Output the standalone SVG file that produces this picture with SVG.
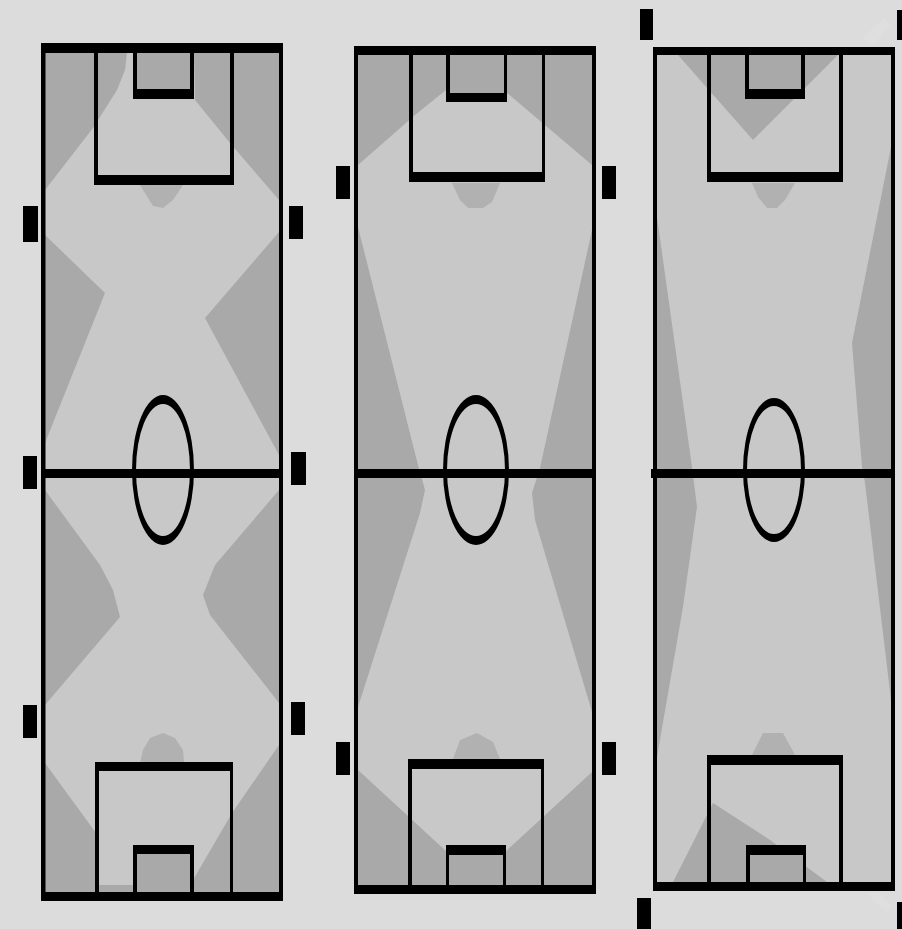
<svg xmlns="http://www.w3.org/2000/svg" width="902" height="929" viewBox="0 0 902 929">
<style>
.bg{fill:#dcdcdc}
.f{fill:#c8c8c8}
.d{fill:#a9a9a9}
.a{fill:#b1b1b1}
.k{fill:#000}
.c{fill:#000;fill-rule:evenodd}
.s{fill:#dfdfdf}
</style>
<rect class="bg" width="902" height="929"/>
<path class="s" d="M862 38L885 18L890 26L874 44ZM866 893L878 893L892 906L886 912Z"/>
<g id="pitch-1">
<rect class="f" x="41" y="43" width="242" height="858"/>
<path class="d" d="M45 53H127L125 70L117 90L93 128L45 190Z"/>
<path class="d" d="M137 53H191V90H137Z"/>
<path class="d" d="M194 53H279V200L230 143L195 100Z"/>
<path class="a" d="M140 185H183L173 200L163 208L153 206Z"/>
<path class="d" d="M45 235L105 293L45 443Z"/>
<path class="d" d="M279 232L205 318L279 455Z"/>
<path class="d" d="M45 490L100 565L113 590L120 617L45 705Z"/>
<path class="d" d="M279 490L215 565L203 595L210 615L279 703Z"/>
<path class="d" d="M45 763L96 833L99 885H133V892H45Z"/>
<path class="d" d="M137 854H190V892H137Z"/>
<path class="d" d="M279 745L232 813L193 880V892H279Z"/>
<path class="a" d="M140 763L143 750L150 738L163 733L175 738L183 750L184 763Z"/>
<rect class="k" x="41" y="43" width="242" height="10"/>
<rect class="k" x="41" y="892" width="242" height="9"/>
<rect class="k" x="41" y="43" width="4.500" height="858"/>
<rect class="k" x="279" y="43" width="4" height="858"/>
<rect class="k" x="41" y="469" width="242" height="9"/>
<path class="k" d="M94 43H98V175H230V43H234V185H94Z"/>
<path class="k" d="M133 43H137V89H190V43H194V99H133Z"/>
<path class="k" d="M95 901V762H233V901H230V771H99V901Z"/>
<path class="k" d="M133 901V845H194V901H190V854H137V901Z"/>
<path class="c" d="M132 470a31 75 0 1 0 62 0a31 75 0 1 0 -62 0ZM136 470a27 66 0 1 1 54 0a27 66 0 1 1 -54 0Z"/>
<rect class="k" x="23" y="206" width="15" height="36"/>
<rect class="k" x="289" y="206" width="14" height="33"/>
<rect class="k" x="23" y="456" width="14" height="33"/>
<rect class="k" x="291" y="452" width="15" height="33"/>
<rect class="k" x="23" y="705" width="14" height="33"/>
<rect class="k" x="291" y="702" width="14" height="33"/>
</g>
<g id="pitch-2">
<rect class="f" x="354" y="46" width="242" height="848"/>
<path class="d" d="M358 55H446V90L415 115L358 165Z"/>
<path class="d" d="M450 55H504V93H450Z"/>
<path class="d" d="M507 55H592V165L507 93Z"/>
<path class="a" d="M452 183H500L492 202L483 208H468L460 200Z"/>
<path class="d" d="M358 227L418 465L425 490L420 513L358 707Z"/>
<path class="d" d="M592 230L540 468L532 493L535 520L592 712Z"/>
<path class="d" d="M358 770L447 852V885H358Z"/>
<path class="d" d="M592 772L505 852V885H592Z"/>
<path class="d" d="M449 855H503V885H449Z"/>
<path class="a" d="M453 759L460 740L477 733L493 742L500 759Z"/>
<rect class="k" x="354" y="46" width="242" height="9"/>
<rect class="k" x="354" y="885" width="242" height="9"/>
<rect class="k" x="354" y="46" width="4" height="848"/>
<rect class="k" x="592" y="46" width="4" height="848"/>
<rect class="k" x="354" y="469" width="242" height="9"/>
<path class="k" d="M409 46H413V172H542V46H545V182H409Z"/>
<path class="k" d="M446 46H450V93H504V46H507V102H446Z"/>
<path class="k" d="M408 894V759H544V894H541V769H412V894Z"/>
<path class="k" d="M446 894V845H506V894H503V855H449V894Z"/>
<path class="c" d="M443 470a33 75 0 1 0 66 0a33 75 0 1 0 -66 0ZM447 470a29 66 0 1 1 58 0a29 66 0 1 1 -58 0Z"/>
<rect class="k" x="336" y="166" width="14" height="33"/>
<rect class="k" x="602" y="166" width="14" height="33"/>
<rect class="k" x="336" y="742" width="14" height="33"/>
<rect class="k" x="602" y="742" width="14" height="33"/>
</g>
<g id="pitch-3">
<rect class="f" x="653" y="47" width="242" height="844"/>
<path class="d" d="M678 55H838L753 140Z"/>
<path class="a" d="M752 183H795L785 200L777 208H767L758 197Z"/>
<path class="d" d="M657 217L692 467L697 507L683 607L657 757Z"/>
<path class="d" d="M891 147L852 343L862 467L865 483L891 700Z"/>
<path class="d" d="M673 882L713 803L770 840L827 882Z"/>
<path class="d" d="M749 99H803V60H749ZM750 855H803V882H750Z"/>
<path class="a" d="M752 755L763 733H783L795 755Z"/>
<rect class="k" x="653" y="47" width="242" height="8"/>
<rect class="k" x="653" y="882" width="242" height="9"/>
<rect class="k" x="653" y="47" width="4" height="844"/>
<rect class="k" x="891" y="47" width="4" height="844"/>
<rect class="k" x="651" y="469" width="244" height="9"/>
<path class="k" d="M707 47H711V172H839V47H843V182H707Z"/>
<path class="k" d="M745 47H749V89H801V47H805V99H745Z"/>
<path class="k" d="M707 891V755H843V891H839V765H711V891Z"/>
<path class="k" d="M746 891V845H806V891H803V855H750V891Z"/>
<path class="c" d="M743 470a31 72 0 1 0 62 0a31 72 0 1 0 -62 0ZM747 470a27 64 0 1 1 54 0a27 64 0 1 1 -54 0Z"/>
<rect class="k" x="640" y="9" width="13" height="31"/>
<rect class="k" x="897" y="10" width="5" height="30"/>
<rect class="k" x="637" y="898" width="14" height="31"/>
<rect class="k" x="897" y="902" width="5" height="27"/>
</g>
</svg>
